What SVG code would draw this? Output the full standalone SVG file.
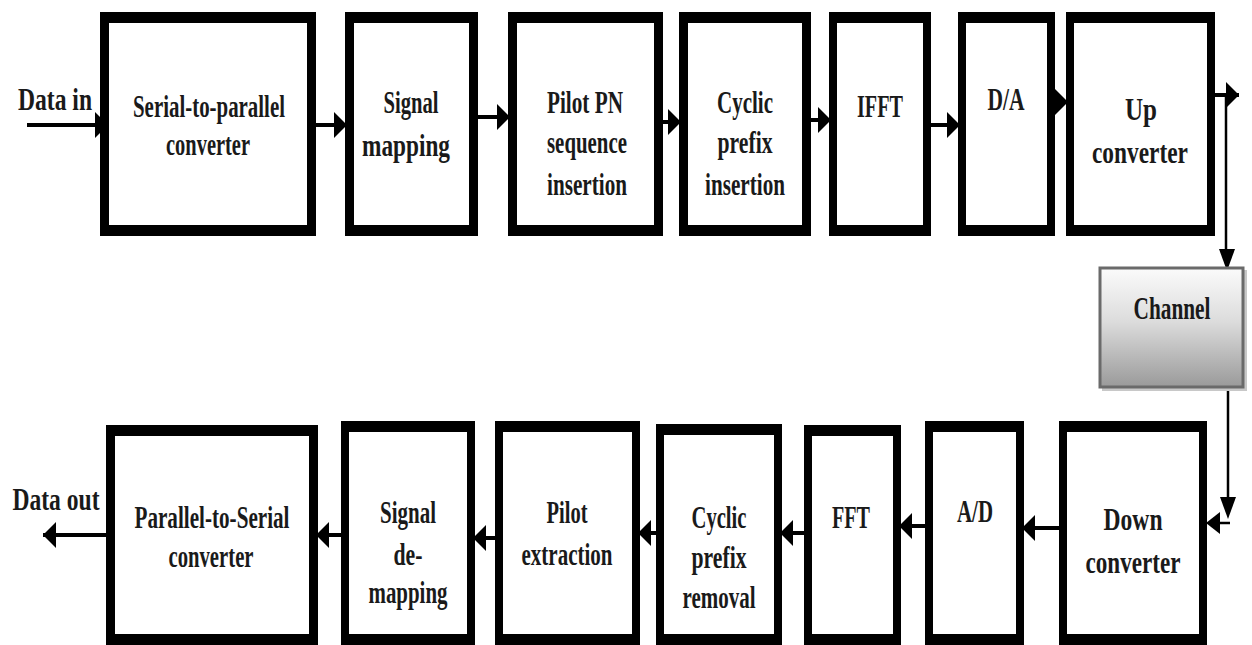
<svg xmlns="http://www.w3.org/2000/svg" width="1252" height="645" viewBox="0 0 1252 645">
<defs>
<style>
.o{fill:#000}
.i{fill:#fff}
.t{font-family:"Liberation Serif","Times New Roman",serif;font-weight:bold;font-size:31px;fill:#1a1a1a;text-anchor:middle}
.c{stroke:#000;stroke-width:4;fill:none}
.cm{marker-end:url(#ah)}
.cs{stroke:#000;stroke-width:2.5;fill:none}
.hd{fill:#000}
</style>
<marker id="ah" markerUnits="userSpaceOnUse" markerWidth="14" markerHeight="26" refX="13" refY="13" orient="auto">
<path d="M0,0 L13,13 L0,26 z" fill="#000"/>
</marker>
<linearGradient id="chg" x1="0" y1="0" x2="0" y2="1">
<stop offset="0" stop-color="#fbfbfb"/>
<stop offset="0.45" stop-color="#dcdcdc"/>
<stop offset="1" stop-color="#9a9a9a"/>
</linearGradient>
</defs>
<rect width="1252" height="645" fill="#fff"/>

<g id="connectors">
<path class="c cm" d="M27,125 H108"/>
<path class="c cm" d="M316,125 H347"/>
<path class="c cm" d="M478,117 H510"/>
<path class="c cm" d="M663,122 H681"/>
<path class="c cm" d="M811,120 H831"/>
<path class="c cm" d="M931,125 H960"/>
<path class="c cm" d="M1055,102 H1068"/>
<path class="c cm" d="M1215,95 H1239"/>
<path class="cs" d="M1226,97 V255"/>
<polygon class="hd" points="1219,249 1235,249 1227,271"/>
<path class="cs" d="M1228,388 V505"/>
<polygon class="hd" points="1220,497 1236,497 1228,519"/>
<path class="cs" d="M1230,523 H1214"/>
<polygon class="hd" points="1220,512 1220,534 1206,523"/>
<path class="c cm" d="M1059,528 H1022"/>
<path class="c cm" d="M925,526 H899"/>
<path class="c cm" d="M804,533 H780"/>
<path class="c cm" d="M656,533 H638"/>
<path class="c cm" d="M495,538 H473"/>
<path class="c cm" d="M341,535 H316"/>
<path class="c cm" d="M106,535 H43"/>
</g>

<g id="label-data-in"><text class="t" x="55" y="110" textLength="74" lengthAdjust="spacingAndGlyphs">Data in</text></g>
<g id="label-data-out"><text class="t" x="56" y="510" textLength="87" lengthAdjust="spacingAndGlyphs">Data out</text></g>

<g id="serial-to-parallel">
<rect class="o" x="100" y="12" width="216" height="224"/>
<rect class="i" x="109" y="23" width="198" height="202"/>
<text class="t" x="209" y="117" textLength="152" lengthAdjust="spacingAndGlyphs">Serial-to-parallel</text>
<text class="t" x="208" y="155" textLength="84" lengthAdjust="spacingAndGlyphs">converter</text>
</g>
<g id="signal-mapping">
<rect class="o" x="345" y="12" width="133" height="224"/>
<rect class="i" x="354" y="23" width="115" height="202"/>
<text class="t" x="411" y="113" textLength="55" lengthAdjust="spacingAndGlyphs">Signal</text>
<text class="t" x="406" y="156" textLength="88" lengthAdjust="spacingAndGlyphs">mapping</text>
</g>
<g id="pilot-insertion">
<rect class="o" x="508" y="12" width="155" height="224"/>
<rect class="i" x="517" y="23" width="137" height="202"/>
<text class="t" x="585" y="113" textLength="76" lengthAdjust="spacingAndGlyphs">Pilot PN</text>
<text class="t" x="587" y="153" textLength="80" lengthAdjust="spacingAndGlyphs">sequence</text>
<text class="t" x="587" y="195" textLength="80" lengthAdjust="spacingAndGlyphs">insertion</text>
</g>
<g id="cp-insertion">
<rect class="o" x="679" y="12" width="132" height="224"/>
<rect class="i" x="688" y="23" width="114" height="202"/>
<text class="t" x="745" y="113" textLength="56" lengthAdjust="spacingAndGlyphs">Cyclic</text>
<text class="t" x="745" y="153" textLength="55" lengthAdjust="spacingAndGlyphs">prefix</text>
<text class="t" x="745" y="195" textLength="80" lengthAdjust="spacingAndGlyphs">insertion</text>
</g>
<g id="ifft">
<rect class="o" x="829" y="12" width="102" height="224"/>
<rect class="i" x="837" y="23" width="86" height="202"/>
<text class="t" x="880" y="117" textLength="46" lengthAdjust="spacingAndGlyphs">IFFT</text>
</g>
<g id="da">
<rect class="o" x="958" y="12" width="97" height="224"/>
<rect class="i" x="966" y="23" width="81" height="202"/>
<text class="t" x="1006" y="110" textLength="37" lengthAdjust="spacingAndGlyphs">D/A</text>
</g>
<g id="up-converter">
<rect class="o" x="1066" y="12" width="149" height="224"/>
<rect class="i" x="1074" y="23" width="133" height="202"/>
<text class="t" x="1141" y="120" textLength="32" lengthAdjust="spacingAndGlyphs">Up</text>
<text class="t" x="1140" y="163" textLength="96" lengthAdjust="spacingAndGlyphs">converter</text>
</g>

<g id="channel">
<rect x="1102" y="270" width="145" height="121" fill="#c8c8c8"/>
<rect x="1100" y="268" width="143" height="119" fill="url(#chg)" stroke="#6a6a6a" stroke-width="3"/>
<text class="t" x="1172" y="319" textLength="77" lengthAdjust="spacingAndGlyphs">Channel</text>
</g>

<g id="down-converter">
<rect class="o" x="1059" y="421" width="148" height="224"/>
<rect class="i" x="1067" y="432" width="132" height="202"/>
<text class="t" x="1133" y="530" textLength="59" lengthAdjust="spacingAndGlyphs">Down</text>
<text class="t" x="1133" y="573" textLength="95" lengthAdjust="spacingAndGlyphs">converter</text>
</g>
<g id="ad">
<rect class="o" x="925" y="421" width="99" height="224"/>
<rect class="i" x="933" y="432" width="83" height="202"/>
<text class="t" x="975" y="522" textLength="36" lengthAdjust="spacingAndGlyphs">A/D</text>
</g>
<g id="fft">
<rect class="o" x="804" y="425" width="97" height="220"/>
<rect class="i" x="812" y="436" width="81" height="198"/>
<text class="t" x="851" y="528" textLength="38" lengthAdjust="spacingAndGlyphs">FFT</text>
</g>
<g id="cp-removal">
<rect class="o" x="656" y="424" width="126" height="221"/>
<rect class="i" x="664" y="435" width="110" height="199"/>
<text class="t" x="719" y="528" textLength="55" lengthAdjust="spacingAndGlyphs">Cyclic</text>
<text class="t" x="719" y="568" textLength="55" lengthAdjust="spacingAndGlyphs">prefix</text>
<text class="t" x="719" y="608" textLength="73" lengthAdjust="spacingAndGlyphs">removal</text>
</g>
<g id="pilot-extraction">
<rect class="o" x="495" y="421" width="145" height="224"/>
<rect class="i" x="503" y="432" width="129" height="202"/>
<text class="t" x="567" y="523" textLength="41" lengthAdjust="spacingAndGlyphs">Pilot</text>
<text class="t" x="567" y="565" textLength="91" lengthAdjust="spacingAndGlyphs">extraction</text>
</g>
<g id="signal-demapping">
<rect class="o" x="341" y="421" width="134" height="224"/>
<rect class="i" x="349" y="432" width="118" height="202"/>
<text class="t" x="408" y="523" textLength="56" lengthAdjust="spacingAndGlyphs">Signal</text>
<text class="t" x="408" y="565" textLength="29" lengthAdjust="spacingAndGlyphs">de-</text>
<text class="t" x="408" y="603" textLength="79" lengthAdjust="spacingAndGlyphs">mapping</text>
</g>
<g id="parallel-to-serial">
<rect class="o" x="106" y="425" width="212" height="220"/>
<rect class="i" x="115" y="436" width="194" height="198"/>
<text class="t" x="212" y="528" textLength="155" lengthAdjust="spacingAndGlyphs">Parallel-to-Serial</text>
<text class="t" x="211" y="567" textLength="85" lengthAdjust="spacingAndGlyphs">converter</text>
</g>
</svg>
